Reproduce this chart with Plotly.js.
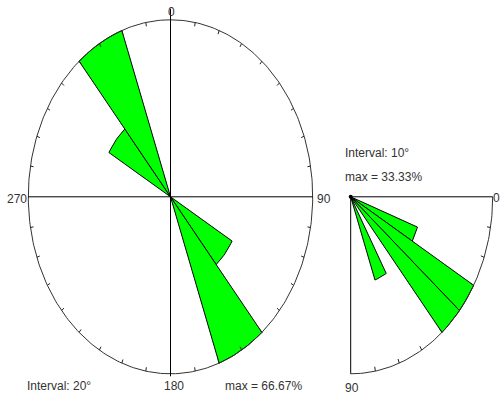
<!DOCTYPE html>
<html>
<head>
<meta charset="utf-8">
<script src="https://cdn.plot.ly/plotly-3.0.1.min.js"></script>
<style>
  html, body { margin: 0; padding: 0; background: #ffffff; }
  #chart { width: 503px; height: 397px; }
</style>
</head>
<body>
<div id="chart"></div>
<script>
// ---------- DATA ----------
// Left rose: full circle, 20° bins (start angle of each bin, compass degrees)
const leftBinStarts = [0, 20, 40, 60, 80, 100, 120, 140, 160, 180, 200, 220, 240, 260, 280, 300, 320, 340];
const leftPercent   = [0, 0, 0, 0, 0, 0, 33.33, 66.67, 0, 0, 0, 0, 0, 0, 0, 33.33, 66.67, 0];
const leftInterval  = 20;
const leftMax       = 66.67;
const leftDirLabels = ['0', '90', '180', '270'];

// Right rose: quarter circle 0°..90°, 10° bins
const rightBinStarts = [0, 10, 20, 30, 40, 50, 60, 70, 80];
const rightPercent   = [0, 0, 16.67, 33.33, 33.33, 0, 16.67, 0, 0];
const rightInterval  = 10;
const rightMax       = 33.33;
const rightDirLabels = ['0', '90'];

// ---------- GEOMETRY / STYLE ----------
const W = 503, H = 397;
const L = { cx: 170.5, cy: 196.8, rx: 142.2, ry: 177 };   // left ellipse in px
const R = { cx: 350.7, cy: 196.8, rx: 142, ry: 177 };     // right quarter in px
const SPLIT = 338;
const GREEN = '#00ff00';
const TXT = '#333333';
const FONT = 'Liberation Sans, Arial, sans-serif';
const FS = 12;

const rad = d => d * Math.PI / 180;
// left: compass (clockwise from north)
const lxy = (a, r) => [r * Math.sin(rad(a)), r * Math.cos(rad(a))];
// right: clockwise from east
const rxy = (a, r) => [r * Math.cos(rad(a)), -r * Math.sin(rad(a))];

function wedge(fn, a0, a1, r, xa, ya) {
  const xs = [0], ys = [0];
  const n = 12;
  for (let i = 0; i <= n; i++) {
    const [x, y] = fn(a0 + (a1 - a0) * i / n, r);
    xs.push(x); ys.push(y);
  }
  xs.push(0); ys.push(0);
  return { type: 'scatter', mode: 'lines', x: xs, y: ys, fill: 'toself', fillcolor: GREEN,
           line: { color: '#000', width: 1 }, xaxis: xa, yaxis: ya, hoverinfo: 'skip', showlegend: false };
}
function arc(fn, a0, a1, r, xa, ya, color, width) {
  const xs = [], ys = [];
  for (let a = a0; a <= a1 + 1e-9; a += 1) { const [x, y] = fn(a, r); xs.push(x); ys.push(y); }
  return { type: 'scatter', mode: 'lines', x: xs, y: ys, line: { color, width }, xaxis: xa, yaxis: ya,
           hoverinfo: 'skip', showlegend: false };
}
function ticks(fn, angles, r, frac, xa, ya) {
  const xs = [], ys = [];
  angles.forEach(a => {
    const [x0, y0] = fn(a, r); const [x1, y1] = fn(a, r * (1 - frac));
    xs.push(x0, x1, null); ys.push(y0, y1, null);
  });
  return { type: 'scatter', mode: 'lines', x: xs, y: ys, line: { color: '#222', width: 1 },
           xaxis: xa, yaxis: ya, hoverinfo: 'skip', showlegend: false };
}
function seg(x, y, xa, ya, w) {
  return { type: 'scatter', mode: 'lines', x, y, line: { color: '#000', width: w || 1 },
           xaxis: xa, yaxis: ya, hoverinfo: 'skip', showlegend: false };
}

const traces = [];
// ----- Left rose -----
leftBinStarts.forEach((a, i) => {
  if (leftPercent[i] > 0) traces.push(wedge(lxy, a, a + leftInterval, leftPercent[i], 'x', 'y'));
});
traces.push(arc(lxy, 0, 360, leftMax, 'x', 'y', '#333', 1));
const lt = []; for (let a = 10; a < 360; a += 10) if (a % 90 !== 0) lt.push(a);
traces.push(ticks(lxy, lt, leftMax, 0.022, 'x', 'y'));
traces.push(seg([-leftMax, leftMax], [0, 0], 'x', 'y'));
traces.push(seg([0, 0], [leftMax * (1 + 11 / L.ry), -leftMax * (1 + 2.5 / L.ry)], 'x', 'y'));

// ----- Right rose -----
rightBinStarts.forEach((a, i) => {
  if (rightPercent[i] > 0) traces.push(wedge(rxy, a, a + rightInterval, rightPercent[i], 'x2', 'y2'));
});
traces.push(arc(rxy, 0, 90, rightMax, 'x2', 'y2', '#333', 1));
const rt = []; for (let a = 10; a < 90; a += 10) rt.push(a);
traces.push(ticks(rxy, rt, rightMax, 0.025, 'x2', 'y2'));
traces.push(seg([0, rightMax], [0, 0], 'x2', 'y2'));
traces.push(seg([0, 0], [0, -rightMax], 'x2', 'y2'));
traces.push({ type: 'scatter', mode: 'markers', x: [0], y: [0], marker: { color: '#000', size: 4 },
              xaxis: 'x2', yaxis: 'y2', hoverinfo: 'skip', showlegend: false });

// axis ranges so that data units map onto the pixel geometry
const lxr = [(0 - L.cx) / L.rx * leftMax, (SPLIT - L.cx) / L.rx * leftMax];
const lyr = [(L.cy - H) / L.ry * leftMax, L.cy / L.ry * leftMax];
const rxr = [(SPLIT - R.cx) / R.rx * rightMax, (W - R.cx) / R.rx * rightMax];
const ryr = [(R.cy - H) / R.ry * rightMax, R.cy / R.ry * rightMax];
const hidden = { visible: false, fixedrange: true, showgrid: false, zeroline: false };

const px = x => x / W, py = y => 1 - y / H;
function txt(text, x, y, xanchor) {
  return { text, x: px(x), y: py(y), xref: 'paper', yref: 'paper', showarrow: false,
           xanchor: xanchor || 'center', yanchor: 'middle', font: { family: FONT, size: FS, color: TXT } };
}

const layout = {
  width: W, height: H, margin: { l: 0, r: 0, t: 0, b: 0 },
  paper_bgcolor: '#ffffff', plot_bgcolor: 'rgba(0,0,0,0)', showlegend: false,
  xaxis: Object.assign({ domain: [0, SPLIT / W], range: lxr }, hidden),
  yaxis: Object.assign({ domain: [0, 1], range: lyr }, hidden),
  xaxis2: Object.assign({ domain: [SPLIT / W, 1], range: rxr, anchor: 'y2' }, hidden),
  yaxis2: Object.assign({ domain: [0, 1], range: ryr, anchor: 'x2' }, hidden),
  annotations: [
    txt(leftDirLabels[0], 171, 12.5),
    txt(leftDirLabels[1], 314.5, 198.5, 'left'),
    txt(leftDirLabels[2], 173.5, 385.5),
    txt(leftDirLabels[3], 29, 198.5, 'right'),
    txt('Interval: ' + leftInterval + '°', 25, 386, 'left'),
    txt('max = ' + leftMax.toFixed(2) + '%', 223, 386, 'left'),
    txt('Interval: ' + rightInterval + '°', 342.5, 153, 'left'),
    txt('max = ' + rightMax.toFixed(2) + '%', 342.5, 177, 'left'),
    txt(rightDirLabels[0], 502, 198, 'right'),
    txt(rightDirLabels[1], 342.5, 387.5, 'left')
  ]
};

Plotly.newPlot('chart', traces, layout, { staticPlot: true, displayModeBar: false });
</script>
</body>
</html>
